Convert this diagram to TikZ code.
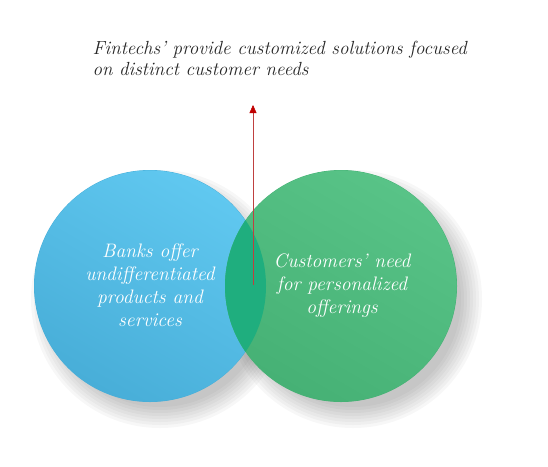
\documentclass[tikz,border=0pt]{standalone}
\usepackage{tikz}
\usetikzlibrary{arrows.meta,calc}
\definecolor{bankblue}{HTML}{48AED8}
\definecolor{bankblueL}{HTML}{60C8F0}
\definecolor{needgreen}{HTML}{46B175}
\definecolor{needgreenL}{HTML}{58C387}
\definecolor{overlapgreen}{HTML}{1FAE7E}
\definecolor{arrowred}{HTML}{C00000}
\tikzset{
  venntext/.style={text=white, align=center, font=\itshape\fontsize{19.5}{23}\selectfont},
  shadowring/.style={fill=black, opacity=0.03},
}
\begin{document}
\begin{tikzpicture}[x=1pt,y=-1pt]
\useasboundingbox (0,0) rectangle (548,466);
\coordinate (banks) at (150,286);
\coordinate (needs) at (341,286);
%
\foreach \r in {108,111,...,129} {
  \fill[shadowring] ($(banks)+(10,13)$) circle (\r);
  \fill[shadowring] ($(needs)+(12,13)$) circle (\r);
}
%
\fill[bankblue] (banks) circle (116);
\shade[top color=bankblueL, bottom color=bankblue, shading angle=-30] (banks) circle (115.6);
\fill[needgreen] (needs) circle (116);
\shade[top color=needgreenL, bottom color=needgreen, shading angle=-30] (needs) circle (115.6);
\begin{scope}
\clip (banks) circle (116);
\fill[overlapgreen] (needs) circle (116);
\end{scope}
%
\node[venntext] (banksText) at (150,285) {Banks offer\\undifferentiated\\products and\\services};
\node[venntext] (needsText) at (342,286) {Customers' need\\for personalized\\offerings};
%
\node[anchor=north west, align=left, text=black!85, font=\itshape\fontsize{19}{21}\selectfont] (fintech) at (89,38) {Fintechs' provide customized solutions focused\\on distinct customer needs};
%
\coordinate (overlap) at (253,285);
\coordinate (tip) at (253,105);
\draw[red!50!gray, line width=0.5pt, -{Triangle[length=8pt,width=7pt,color=arrowred]}] (overlap) -- (tip);
%
\end{tikzpicture}
\end{document}
